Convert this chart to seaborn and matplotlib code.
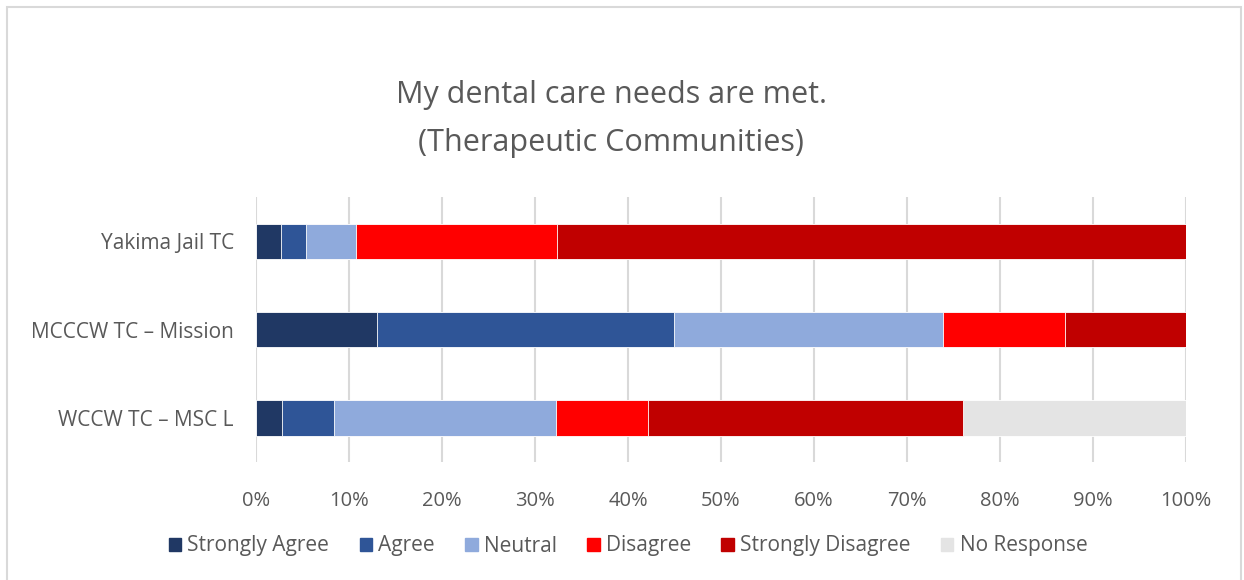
import seaborn as sns
import matplotlib.pyplot as plt
from matplotlib.patches import Rectangle
import pandas as pd
import numpy as np

sites = ["Yakima Jail TC", "MCCCW TC \u2013 Mission", "WCCW TC \u2013 MSC L"]
responses = ["Strongly Agree", "Agree", "Neutral", "Disagree", "Strongly Disagree", "No Response"]
colors = ["#203864", "#2F5597", "#8FAADC", "#FF0000", "#C00000", "#E4E4E4"]

strongly_agree = [2.7, 13.0, 2.8]
agree = [2.7, 31.9, 5.6]
neutral = [5.4, 29.0, 23.9]
disagree = [21.6, 13.1, 9.9]
strongly_disagree = [67.6, 13.0, 33.8]
no_response = [0.0, 0.0, 24.0]

df = pd.DataFrame({
    "site": sites,
    "Strongly Agree": strongly_agree,
    "Agree": agree,
    "Neutral": neutral,
    "Disagree": disagree,
    "Strongly Disagree": strongly_disagree,
    "No Response": no_response,
})
cum = df[responses].cumsum(axis=1)
cum["site"] = df["site"]

sns.set_style("white")
plt.rcParams['font.family'] = ['Open Sans', 'DejaVu Sans']
txt = "#595959"

fig = plt.figure(figsize=(12.44, 5.8), dpi=100)
ax = fig.add_axes([256 / 1244, 1 - 462 / 580, 930 / 1244, 265 / 580])

# stacked bars: draw running totals from the last category back to the first
for resp, col in reversed(list(zip(responses, colors))):
    sns.barplot(data=cum, y="site", x=resp, orient="h", color=col, width=0.4,
                saturation=1, edgecolor="white", linewidth=0.6, ax=ax, zorder=3)

ax.set_xlim(0, 100)
ax.set_ylim(2.5, -0.5)
ax.set_xticks(np.arange(0, 101, 10))
ax.set_xticklabels([f"{v}%" for v in range(0, 101, 10)], fontsize=14.5, color=txt)
ax.tick_params(axis="y", labelsize=15, labelcolor=txt, length=0, pad=16)
ax.tick_params(axis="x", length=0, pad=21)
ax.set_xlabel("")
ax.set_ylabel("")
ax.grid(axis="x", color="#D9D9D9", linewidth=1.5, zorder=0)
ax.set_axisbelow(True)
for s in ax.spines.values():
    s.set_visible(False)

fig.text(611 / 1244, 1 - 119 / 580, "My dental care needs are met.\n(Therapeutic Communities)",
         ha="center", va="center", fontsize=22, color=txt, linespacing=1.75)

handles = [Rectangle((0, 0), 1, 1, color=c) for c in colors]
fig.legend(handles, responses, loc="center", bbox_to_anchor=(628 / 1244, 1 - 546 / 580),
           ncol=6, frameon=False, fontsize=15, labelcolor=txt, handlelength=0.6,
           handleheight=0.6, handletextpad=0.3, columnspacing=1.45)

fig.patches.append(Rectangle((7 / 1244, -0.05), 1234 / 1244, 1.05 - 7 / 580,
                             transform=fig.transFigure, fill=False,
                             edgecolor="#D9D9D9", linewidth=1.5))

fig.savefig("out.png", dpi=100)
